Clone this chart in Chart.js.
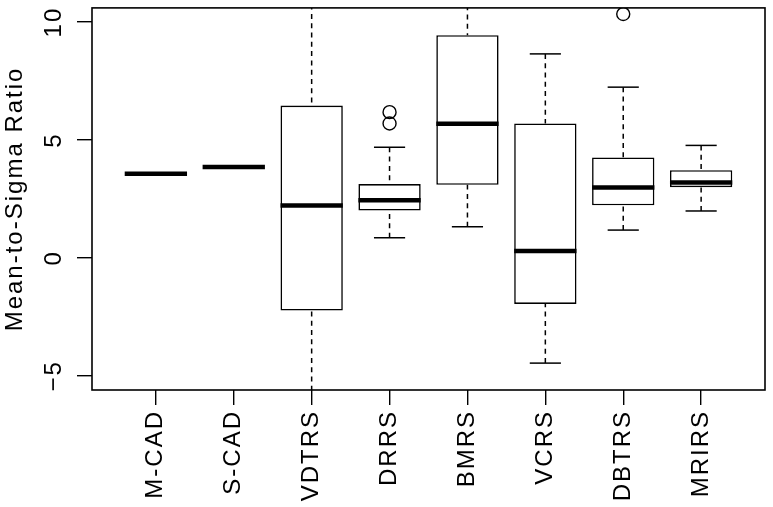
<!DOCTYPE html>
<html><head><meta charset="utf-8">
<script src="https://cdn.jsdelivr.net/npm/chart.js@4"></script>
<style>html,body{margin:0;padding:0;background:#fff;overflow:hidden}</style>
</head><body>
<canvas id="c" width="773" height="507"></canvas>
<script>
const categories = ['M-CAD', 'S-CAD', 'VDTRS', 'DRRS', 'BMRS', 'VCRS', 'DBTRS', 'MRIRS'];
const medians     = [3.57, 3.85,  2.22, 2.44, 5.69,  0.29, 2.99, 3.20];
const q1          = [3.57, 3.85, -2.23, 2.01, 3.10, -1.95, 2.23, 3.00];
const q3          = [3.57, 3.85,  6.46, 3.13, 9.44,  5.70, 4.26, 3.72];
const whiskerLow  = [3.57, 3.85, -8.00, 0.86, 1.32, -4.46, 1.18, 1.99];
const whiskerHigh = [3.57, 3.85, 13.50, 4.69, 11.50, 8.65, 7.24, 4.77];
const outlierGroups = [[], [], [], [6.18, 5.70], [], [], [10.34], []];
const yTicks = [-5, 0, 5, 10];
const yLabel = 'Mean-to-Sigma Ratio';

const positions = categories.map((c, i) => i + 1);
const boxData = positions.map((p, i) => ({x: p, y: [q1[i], q3[i]]}));
const outlierData = [];
outlierGroups.forEach((g, i) => g.forEach(v => outlierData.push({x: positions[i], y: v})));

const FONT = 'Liberation Sans, Arial, Helvetica, sans-serif';

const boxExtras = {
  id: 'boxExtras',
  beforeDraw(chart) { chart.ctx.letterSpacing = '2px'; },
  afterDatasetsDraw(chart) {
    const {ctx, chartArea: a, scales: {x, y}} = chart;
    const bars = chart.getDatasetMeta(0).data;
    ctx.save();
    ctx.beginPath();
    ctx.rect(a.left, a.top, a.right - a.left, a.bottom - a.top);
    ctx.clip();
    ctx.strokeStyle = '#000';
    ctx.lineCap = 'butt';
    positions.forEach((p, i) => {
      const cx = x.getPixelForValue(p);
      const w = bars[i].width;
      const yq1 = y.getPixelForValue(q1[i]);
      const yq3 = y.getPixelForValue(q3[i]);
      const yLo = y.getPixelForValue(whiskerLow[i]);
      const yHi = y.getPixelForValue(whiskerHigh[i]);
      const yMed = y.getPixelForValue(medians[i]);
      ctx.lineWidth = 1.5;
      ctx.setLineDash([5, 4.3]);
      if (whiskerHigh[i] > q3[i]) {
        ctx.beginPath(); ctx.moveTo(cx, yHi); ctx.lineTo(cx, yq3); ctx.stroke();
      }
      if (whiskerLow[i] < q1[i]) {
        ctx.beginPath(); ctx.moveTo(cx, yLo); ctx.lineTo(cx, yq1); ctx.stroke();
      }
      ctx.setLineDash([]);
      if (whiskerHigh[i] > q3[i]) {
        ctx.beginPath(); ctx.moveTo(cx - w / 4, yHi); ctx.lineTo(cx + w / 4, yHi); ctx.stroke();
      }
      if (whiskerLow[i] < q1[i]) {
        ctx.beginPath(); ctx.moveTo(cx - w / 4, yLo); ctx.lineTo(cx + w / 4, yLo); ctx.stroke();
      }
      ctx.lineWidth = 4.5;
      ctx.beginPath(); ctx.moveTo(cx - w / 2, yMed); ctx.lineTo(cx + w / 2, yMed); ctx.stroke();
    });
    ctx.restore();
  },
  afterDraw(chart) {
    const {ctx, chartArea: a} = chart;
    ctx.save();
    ctx.strokeStyle = '#000';
    ctx.lineWidth = 1.6;
    ctx.strokeRect(a.left, a.top, a.right - a.left, a.bottom - a.top);
    ctx.restore();
    ctx.letterSpacing = '0px';
  }
};

new Chart(document.getElementById('c'), {
  type: 'bar',
  data: {
    datasets: [
      {
        type: 'bar',
        data: boxData,
        backgroundColor: '#fff',
        borderColor: '#000',
        borderWidth: 1.6,
        borderSkipped: false,
        categoryPercentage: 1,
        barPercentage: 0.8
      },
      {
        type: 'scatter',
        data: outlierData,
        pointStyle: 'circle',
        pointRadius: 6.5,
        pointBorderWidth: 1.4,
        pointBorderColor: '#000',
        pointBackgroundColor: 'rgba(0,0,0,0)',
        showLine: false
      }
    ]
  },
  options: {
    responsive: false,
    animation: false,
    devicePixelRatio: 1,
    layout: {padding: {top: 5, right: 8, left: 0, bottom: 0}},
    plugins: {legend: {display: false}, tooltip: {enabled: false}},
    scales: {
      x: {
        type: 'linear',
        offset: false,
        min: 0.18, max: 8.82,
        afterBuildTicks: s => { s.ticks = positions.map(v => ({value: v})); },
        afterFit: s => { s.height = 117; s.paddingLeft = 0; s.paddingRight = 0; s.paddingTop = 0; s.paddingBottom = 0; },
        ticks: {
          autoSkip: false, minRotation: 90, maxRotation: 90, padding: 5,
          color: '#000', font: {family: FONT, size: 24},
          callback: (v, idx) => categories[idx]
        },
        grid: {offset: false, drawOnChartArea: false, drawTicks: true, tickLength: 15, color: '#000', lineWidth: 1.4},
        border: {display: false}
      },
      y: {
        type: 'linear',
        min: -5.6, max: 10.6,
        afterBuildTicks: s => { s.ticks = yTicks.map(v => ({value: v})); },
        afterFit: s => { s.width = 92; s.paddingLeft = 0; s.paddingRight = 0; s.paddingTop = 0; s.paddingBottom = 0; },
        ticks: {
          minRotation: 90, maxRotation: 90, crossAlign: 'center', padding: 9,
          color: '#000', font: {family: FONT, size: 24},
          callback: v => (v < 0 ? '\u2212' + Math.abs(v) : String(v))
        },
        title: {
          display: true, text: yLabel, color: '#000',
          font: {family: FONT, size: 24}, padding: {top: 1, bottom: 0}
        },
        grid: {drawOnChartArea: false, drawTicks: true, tickLength: 15, color: '#000', lineWidth: 1.4},
        border: {display: false}
      }
    }
  },
  plugins: [boxExtras]
});
</script>
</body></html>
